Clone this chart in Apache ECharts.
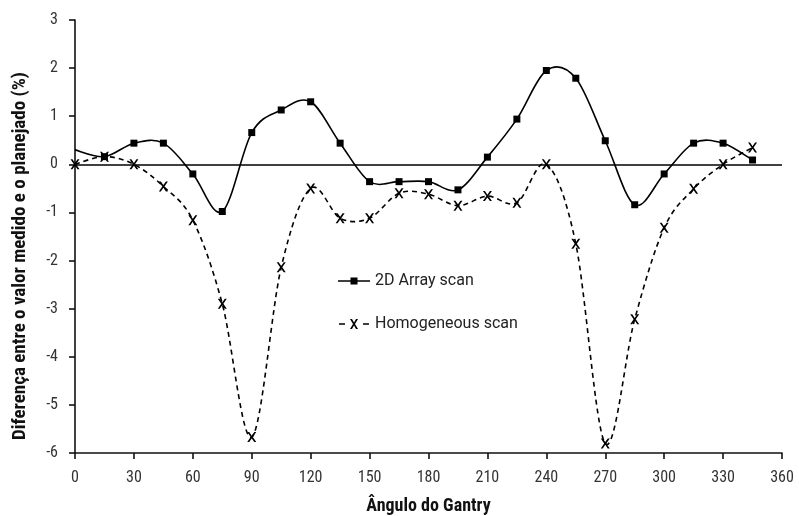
<!DOCTYPE html>
<html><head><meta charset="utf-8">
<script src="https://cdn.jsdelivr.net/npm/echarts@6/dist/echarts.min.js"></script>
<style>html,body{margin:0;padding:0;background:#fff;overflow:hidden}#c{width:799px;height:516px}</style>
</head><body><div id="c"></div>
<script>
const angles = [0,15,30,45,60,75,90,105,120,135,150,165,180,195,210,225,240,255,270,285,300,315,330,345];
const arrayScan = [0.30,0.16,0.44,0.44,-0.20,-0.98,0.66,1.13,1.30,0.44,-0.36,-0.36,-0.36,-0.53,0.15,0.94,1.95,1.79,0.49,-0.84,-0.20,0.44,0.44,0.09];
const homogeneousScan = [0.00,0.16,0.00,-0.46,-1.16,-2.90,-5.67,-2.14,-0.50,-1.12,-1.12,-0.60,-0.62,-0.86,-0.66,-0.80,0.00,-1.65,-5.80,-3.22,-1.32,-0.51,0.00,0.35];
const seriesNames = ['2D Array scan','Homogeneous scan'];
const xTitle = 'Ângulo do Gantry';
const yTitle = 'Diferença entre o valor medido e o planejado (%)';

const pair = arr => arr.map((v,i)=>[angles[i], v]);
const xPath = 'path://M0,0 L2.2,0 L5,4 L7.8,0 L10,0 L6.2,5.5 L10,11 L7.8,11 L5,7 L2.2,11 L0,11 L3.8,5.5 Z';
const legendIconArray = 'path://M0,0 L32,0 L32,12 L0,12 Z M0,0 M0,5.2 L32,5.2 L32,6.8 L0,6.8 Z M12.5,2.5 L19.5,2.5 L19.5,9.5 L12.5,9.5 Z';
const legendIconHomog = 'path://M1,5.2 L7,5.2 L7,6.8 L1,6.8 Z M25,5.2 L31,5.2 L31,6.8 L25,6.8 Z M12,1 L14,1 L16,4.6 L18,1 L20,1 L17,6 L20,11 L18,11 L16,7.4 L14,11 L12,11 L15,6 Z';
const cond = '"Roboto Condensed", Roboto, sans-serif';

// Excel-like smoothed curve (Catmull-Rom style Bezier) through the data, in pixel space from the axes
function smoothCurve(values, dash) {
  return function(params, api) {
    const pts = values.map((v,i)=>api.coord([angles[i], v]));
    const n = pts.length;
    let d = 'M' + pts[0][0] + ',' + pts[0][1];
    for (let i = 0; i < n-1; i++) {
      const p0 = pts[Math.max(i-1,0)], p1 = pts[i], p2 = pts[i+1], p3 = pts[Math.min(i+2,n-1)];
      const t = 1/6;
      const c1x = p1[0] + (p2[0]-p0[0])*t, c1y = p1[1] + (p2[1]-p0[1])*t;
      const c2x = p2[0] - (p3[0]-p1[0])*t, c2y = p2[1] - (p3[1]-p1[1])*t;
      d += ' C' + c1x + ',' + c1y + ' ' + c2x + ',' + c2y + ' ' + p2[0] + ',' + p2[1];
    }
    return {type:'path', shape:{pathData:d}, style:{fill:null, stroke:'#000', lineWidth:1.6, lineDash:dash}, silent:true};
  };
}

const arrayData = pair(arrayScan).map((p,i)=> i===0 ? {value:p, symbol:'none'} : p);

const chart = echarts.init(document.getElementById('c'), null, {renderer:'canvas'});
chart.setOption({
  animation:false,
  backgroundColor:'#fff',
  grid:{left:75,right:17,top:20,bottom:63,containLabel:false, outerBoundsMode:'none'},
  legend:{
    orient:'vertical', left:333, top:268, itemGap:27, itemWidth:32, itemHeight:12,
    textStyle:{fontFamily:'Roboto, sans-serif', fontSize:16, color:'#222'},
    data:[
      {name:seriesNames[0], icon:'path://M0,5.2 L32,5.2 L32,6.8 L0,6.8 Z M12.5,2.5 L19.5,2.5 L19.5,9.5 L12.5,9.5 Z M0,0 L0.01,0 L0.01,0.01 Z M32,12 L31.99,12 L31.99,11.99 Z', itemStyle:{color:'#000'}},
      {name:seriesNames[1], icon:legendIconHomog + ' M0,0 L0.01,0 L0.01,0.01 Z M32,12 L31.99,12 L31.99,11.99 Z', itemStyle:{color:'#000'}}
    ]
  },
  graphic:[{
    type:'text', x:20, y:256, rotation:Math.PI/2,
    style:{text:yTitle, font:'bold 19px "Roboto Condensed", Roboto, sans-serif', fill:'#111', align:'center', verticalAlign:'middle'}
  }],
  xAxis:{
    type:'value', min:0, max:360, interval:30,
    name:xTitle, nameLocation:'middle', nameGap:44,
    nameTextStyle:{fontFamily:cond, fontWeight:'bold', fontSize:18, color:'#111'},
    axisLine:{onZero:false, lineStyle:{color:'#111', width:1.6}},
    axisTick:{show:true, length:6, lineStyle:{color:'#111', width:1.6}},
    axisLabel:{fontFamily:cond, fontSize:16, color:'#333', margin:17},
    splitLine:{show:false}
  },
  yAxis:{
    type:'value', min:-6, max:3, interval:1,
    axisLine:{show:true, lineStyle:{color:'#111', width:1.6}},
    axisTick:{show:true, length:6, lineStyle:{color:'#111', width:1.6}},
    axisLabel:{fontFamily:cond, fontSize:16, color:'#333', margin:17},
    splitLine:{show:false}
  },
  series:[
    {
      name:'curve-array', type:'custom', data:[[0,0]], renderItem:smoothCurve(arrayScan, null), z:2, clip:false
    },
    {
      name:'curve-homog', type:'custom', data:[[0,0]], renderItem:smoothCurve(homogeneousScan, [5,4]), z:2, clip:false
    },
    {
      name:seriesNames[0], type:'line', data:arrayData,
      symbol:'rect', symbolSize:7,
      itemStyle:{color:'#000'},
      lineStyle:{color:'#000', width:1.6, opacity:0},
      z:3,
      markLine:{
        silent:true, symbol:'none', label:{show:false},
        lineStyle:{color:'#000', width:1.6, type:'solid'},
        data:[{yAxis:0}]
      }
    },
    {
      name:seriesNames[1], type:'line', data:pair(homogeneousScan),
      symbol:xPath, symbolSize:[9,10],
      itemStyle:{color:'#000'},
      lineStyle:{color:'#000', width:1.6, type:[5,4], opacity:0},
      z:4
    }
  ]
});
</script></body></html>
